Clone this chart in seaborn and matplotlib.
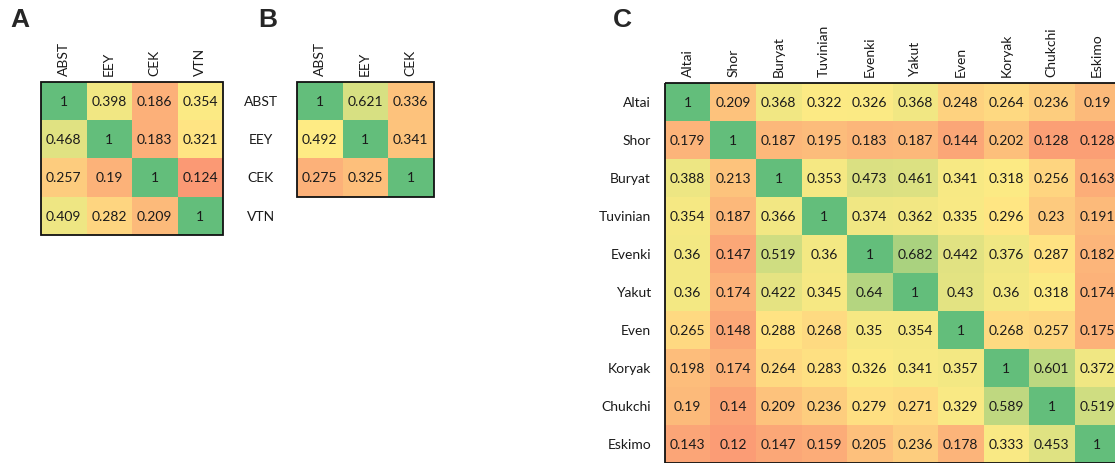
import numpy as np
import pandas as pd
import matplotlib
matplotlib.use("Agg")
import matplotlib.pyplot as plt
from matplotlib.colors import LinearSegmentedColormap, TwoSlopeNorm
from matplotlib.patches import Rectangle
import seaborn as sns

sns.set_theme(style="white")
plt.rcParams['font.family'] = ['Lato', 'DejaVu Sans']

# Panel A / B labels
ab_labels = ['ABST', 'EEY', 'CEK', 'VTN']
a_values = [
    [1, 0.398, 0.186, 0.354],
    [0.468, 1, 0.183, 0.321],
    [0.257, 0.19, 1, 0.124],
    [0.409, 0.282, 0.209, 1],
]
b_values = [
    [1, 0.621, 0.336],
    [0.492, 1, 0.341],
    [0.275, 0.325, 1],
]

# Panel C
c_labels = ['Altai', 'Shor', 'Buryat', 'Tuvinian', 'Evenki', 'Yakut',
            'Even', 'Koryak', 'Chukchi', 'Eskimo']
c_values = [
    [1, 0.209, 0.368, 0.322, 0.326, 0.368, 0.248, 0.264, 0.236, 0.19],
    [0.179, 1, 0.187, 0.195, 0.183, 0.187, 0.144, 0.202, 0.128, 0.128],
    [0.388, 0.213, 1, 0.353, 0.473, 0.461, 0.341, 0.318, 0.256, 0.163],
    [0.354, 0.187, 0.366, 1, 0.374, 0.362, 0.335, 0.296, 0.23, 0.191],
    [0.36, 0.147, 0.519, 0.36, 1, 0.682, 0.442, 0.376, 0.287, 0.182],
    [0.36, 0.174, 0.422, 0.345, 0.64, 1, 0.43, 0.36, 0.318, 0.174],
    [0.265, 0.148, 0.288, 0.268, 0.35, 0.354, 1, 0.268, 0.257, 0.175],
    [0.198, 0.174, 0.264, 0.283, 0.326, 0.341, 0.357, 1, 0.601, 0.372],
    [0.19, 0.14, 0.209, 0.236, 0.279, 0.271, 0.329, 0.589, 1, 0.519],
    [0.143, 0.12, 0.147, 0.159, 0.205, 0.236, 0.178, 0.333, 0.453, 1],
]

# Excel-style 3 colour scale: red at 0, yellow at median, green at max
excel_cmap = LinearSegmentedColormap.from_list('excel', ['#F8696B', '#FFEB84', '#63BE7B'])

W, H = 1115, 464
fig = plt.figure(figsize=(W / 100, H / 100), dpi=100)


def add_ax(left, top, width, height):
    return fig.add_axes([left / W, 1 - (top + height) / H, width / W, height / H])


def draw(ax, df, nrows_box):
    vals = df.values.astype(float)
    norm = TwoSlopeNorm(vmin=0, vcenter=np.nanmedian(vals), vmax=np.nanmax(vals))
    sns.heatmap(df, ax=ax, cmap=excel_cmap, norm=norm, cbar=False,
                annot=True, fmt='g', annot_kws={'fontsize': 10, 'color': '#1a1a1a'})
    ax.xaxis.tick_top()
    ax.tick_params(axis='both', length=0, labelsize=10, colors='#1a1a1a')
    ax.tick_params(axis='x', pad=5)
    plt.setp(ax.get_xticklabels(), rotation=90)
    plt.setp(ax.get_yticklabels(), rotation=0)
    for s in ax.spines.values():
        s.set_visible(False)
    ax.add_patch(Rectangle((0, 0), df.shape[1], nrows_box, fill=False,
                           edgecolor='#111111', lw=1.3, clip_on=False, zorder=5))


# A
cw, rh = 45.5, 38.2
dfa = pd.DataFrame(a_values, index=ab_labels, columns=ab_labels)
axa = add_ax(41, 83, 4 * cw, 4 * rh)
draw(axa, dfa, 4)
axa.set_yticklabels([])

# B (row labels sit between A and B, VTN row has no cells)
dfb = pd.DataFrame(b_values + [[np.nan] * 3], index=ab_labels, columns=ab_labels[:3])
axb = add_ax(297, 83, 3 * cw, 4 * rh)
draw(axb, dfb, 3)
axb.tick_params(axis='y', pad=26)
plt.setp(axb.get_yticklabels(), ha='center')

# C (runs off the right edge like the original)
dfc = pd.DataFrame(c_values, index=c_labels, columns=c_labels)
axc = add_ax(665, 84, 10 * cw, 10 * 38)
draw(axc, dfc, 10)
axc.tick_params(axis='y', pad=10)

for letter, x in [('A', 10), ('B', 258), ('C', 613)]:
    fig.text(x / W, 1 - 8 / H, letter, fontsize=19, fontweight='bold',
             family='Liberation Sans', va='top', ha='left')

fig.savefig('out.png', dpi=100)
